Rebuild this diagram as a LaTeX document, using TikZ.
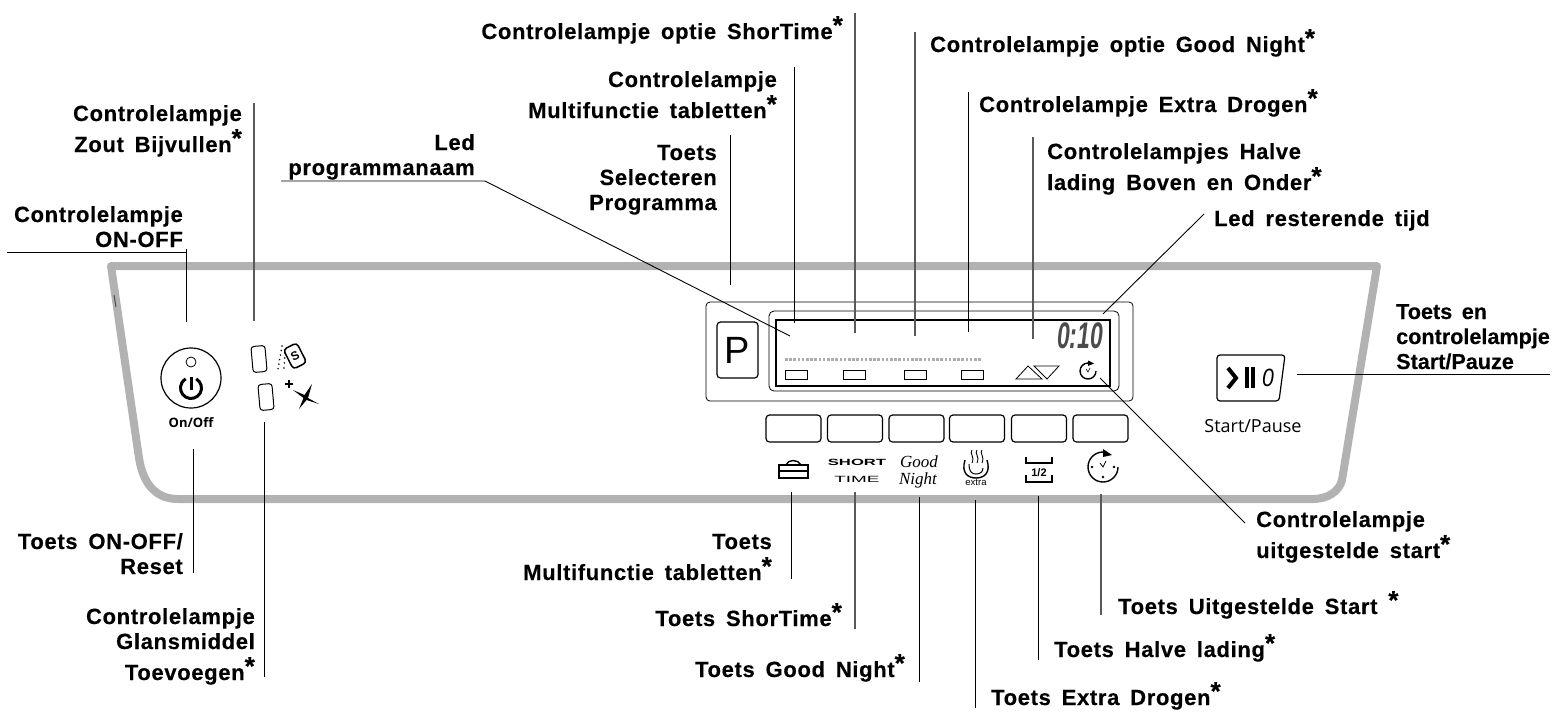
\documentclass[tikz,border=0pt]{standalone}
\usepackage{fontspec}
\usepackage{tikz}
\setmainfont{Liberation Sans}
\newfontfamily\labelfont[LetterSpace=3,WordSpace=1.6,FakeBold=0.3]{Liberation Sans Bold}
\newfontfamily\tightfont[WordSpace=1.6,FakeBold=0.3]{Liberation Sans Bold}
\newfontfamily\panelfont{Open Sans}
\newfontfamily\handfont{Liberation Serif}
\newcommand{\ster}{\smash{\raisebox{5pt}{\fontsize{26}{26}\selectfont *}}}
\definecolor{panelgrey}{HTML}{B2B2B2}

\begin{document}
\begin{tikzpicture}[x=1pt, y=-1pt]
\tikzstyle{label} = [inner sep=0 pt, font=\labelfont\fontsize{22}{25}\selectfont, align=right]
\tikzstyle{labell} = [label, align=left]
\tikzstyle{leader} = [draw=black, line width=0.9 pt]
\tikzstyle{leaderg} = [draw=black!65, line width=1.3 pt]
\tikzstyle{key} = [draw=black, line width=1.2 pt, rounded corners=3.5 pt, minimum width=55 pt, minimum height=27 pt, inner sep=0 pt]
\tikzstyle{lamp} = [draw=black, line width=1 pt, rounded corners=3 pt, minimum width=14 pt, minimum height=26 pt, inner sep=0 pt, rotate=5]
\tikzstyle{slot} = [draw=black, line width=0.8 pt, minimum width=22 pt, minimum height=9 pt, inner sep=0 pt]
\tikzstyle{icon} = [draw=black, line width=1.4 pt]
\useasboundingbox (0,0) rectangle (1554,718);

% panel
\draw [panelgrey, line width=8 pt, line join=round] (111,266) -- (1377,266) -- (1342,480) .. controls (1339,492) and (1327,499) .. (1313,499) -- (178,499) .. controls (155,499) and (143,483) .. (139,458) -- cycle;
\draw [black!70, line width=1 pt] (114,295) -- (116,307);

% display
\node (dispouter) [draw=black, line width=0.8 pt, rounded corners=4 pt, minimum width=427 pt, minimum height=99 pt, inner sep=0 pt] at (919.5,351.5) {};
\node (dispmid) [draw=black, line width=0.8 pt, rounded corners=5 pt, minimum width=350 pt, minimum height=80 pt, inner sep=0 pt] at (944,351) {};
\node (dispin) [draw=black, line width=1.2 pt, minimum width=334 pt, minimum height=66 pt, inner sep=0 pt] at (943,353) {};
\node (pkey) [key, minimum width=41 pt, minimum height=56 pt] at (737.5,350) {\fontsize{38}{38}\selectfont P};
\coordinate (dotsa) at (785,359);
\coordinate (dotsb) at (982,359);
\draw [black!32, line width=3 pt, dash pattern=on 2.6 pt off 1.6 pt] (dotsa) -- (dotsb);
\node (slota) [slot] at (796,374.5) {};
\node (slotb) [slot] at (854,374.5) {};
\node (slotc) [slot] at (915,374.5) {};
\node (slotd) [slot] at (972.5,374.5) {};
\draw [line width=0.8 pt] (1016,379) -- (1028,366) -- (1042,379) -- cycle;
\draw [line width=0.8 pt] (1034,366) -- (1059,366) -- (1047,379) -- cycle;
\node (tijd) [inner sep=0 pt, text=black!70, xscale=0.62, font=\bfseries\itshape\fontsize{37}{37}\selectfont] at (1080,336) {0:10};
% small clock
\draw [icon] (1096,371) arc (0:270:8);
\fill (1088,360.5) -- (1094,363.5) -- (1088,366) -- cycle;
\draw [line width=0.6 pt] (1086,369) -- (1088,372) -- (1090,368);

% keys
\node (keya) [key] at (793.5,428.5) {};
\node (keyb) [key] at (855,428.5) {};
\node (keyc) [key] at (916.5,428.5) {};
\node (keyd) [key] at (977,428.5) {};
\node (keye) [key] at (1039,428.5) {};
\node (keyf) [key] at (1100.5,428.5) {};

% key icons
\draw [icon] (779,465) rectangle (808,478);
\draw [icon] (779,471) -- (808,471);
\draw [icon] (786,465) .. controls (788,459) and (798,459) .. (801,465);
\node (shorttxt) [inner sep=0 pt, xscale=1.85, font=\bfseries\fontsize{9}{9}\selectfont] at (857,462) {SHORT};
\node (timetxt) [inner sep=0 pt, xscale=2.1, font=\fontsize{9}{9}\selectfont] at (857,479) {TIME};
\node (goodtxt) [inner sep=0 pt, font=\handfont\itshape\fontsize{17}{17}\selectfont] at (919,462) {Good};
\node (nighttxt) [inner sep=0 pt, font=\handfont\itshape\fontsize{17}{17}\selectfont] at (918,480) {Night};
\draw [icon] (965,460) .. controls (961,473) and (968,478) .. (976,478) .. controls (984,478) and (991,473) .. (987,460);
\draw [line width=1 pt] (969,464) .. controls (969,472) and (972,474) .. (976,474) .. controls (980,474) and (983,472) .. (983,468);
\draw [line width=0.9 pt] (972,450) .. controls (969,453) and (975,456) .. (972,463);
\draw [line width=0.9 pt] (977,450) .. controls (974,453) and (980,456) .. (977,463);
\draw [line width=0.9 pt] (982,450) .. controls (979,453) and (985,456) .. (982,463);
\node (extratxt) [inner sep=0 pt, font=\fontsize{9.5}{10}\selectfont] at (976,482) {extra};
\draw [icon] (1026,457) -- (1026,463) -- (1052,463) -- (1052,457);
\draw [icon] (1026,475) -- (1026,482) -- (1052,482) -- (1052,475);
\node (halftxt) [inner sep=0 pt, font=\bfseries\fontsize{11}{11}\selectfont] at (1039,473) {1/2};
\draw [icon] (1118,467) arc (0:270:15);
\fill (1103,449) -- (1112,455) -- (1103,457) -- cycle;
\draw [line width=0.8 pt] (1100,463) -- (1103,467) -- (1106,461);
\fill (1092,467) circle (1.3 pt) (1114,467) circle (1.3 pt) (1103,477) circle (1.3 pt);

% power key
\node (power) [circle, draw=black, line width=1.2 pt, minimum width=60 pt, inner sep=0 pt] at (191,378) {};
\node (powerled) [circle, draw=black, line width=0.8 pt, minimum width=10 pt, inner sep=0 pt] at (191,362) {};
\draw [line width=3 pt] (196.25,378.9) arc (300:600:10.5);
\draw [line width=3 pt] (191,377) -- (191,390);
\node (onoff) [inner sep=0 pt, font=\panelfont\bfseries\fontsize{13}{13}\selectfont] at (191,423) {On/Off};

% salt and rinse aid
\node (lampzout) [lamp] at (259,359) {};
\node (lampglans) [lamp] at (266,397) {};
\node (zoutbox) [draw=black, line width=1.5 pt, rounded corners=3.5 pt, minimum width=15 pt, minimum height=22 pt, inner sep=0 pt, rotate=27, font=\bfseries\fontsize{12}{12}\selectfont] at (295,356) {S};
\draw [line width=1.7 pt, line cap=round, dash pattern=on 0 pt off 4.6 pt] (282,346) -- (278,369);
\draw [line width=1.7 pt, line cap=round, dash pattern=on 0 pt off 5 pt] (285,353) -- (284,368);
\fill (293,390) -- (304.5,395) -- (312,384) -- (308,398) -- (319,404) -- (306.5,400) -- (299,409) -- (303.5,398) -- cycle;
\draw [line width=1.4 pt] (285,384) -- (293,384);
\draw [line width=1.4 pt] (289,380) -- (289,388);

% start key
\draw [line width=1.2 pt, rounded corners=3 pt] (1217,355) -- (1285,355) -- (1279,401) -- (1217,401) -- cycle;
\draw [line width=4 pt] (1228,368) -- (1236,378) -- (1228,388);
\draw [line width=3.6 pt] (1247,367) -- (1247,388);
\draw [line width=3.6 pt] (1253,367) -- (1253,388);
\node (nultxt) [inner sep=0 pt, xscale=0.85, font=\itshape\fontsize{25}{25}\selectfont] at (1268,378) {0};
\node (starttxt) [inner sep=0 pt, font=\panelfont\fontsize{18}{18}\selectfont] at (1253,426) {Start/Pause};

% labels
\node (lonoff) [label, anchor=base east] at (183,247) {Controlelampje\\ON-OFF};
\node (lzout) [label, anchor=base east] at (242,152) {Controlelampje\\[6 pt]Zout Bijvullen\ster};
\node (lled) [label, anchor=base east] at (475,175) {Led\\programmanaam};
\node (lshort) [label, anchor=base east] at (843,39) {Controlelampje optie ShorTime\ster};
\node (lmulti) [label, anchor=base east] at (777,118) {Controlelampje\\[6 pt]Multifunctie tabletten\ster};
\node (lprog) [label, anchor=base east] at (717,210) {Toets\\Selecteren\\Programma};
\node (lgood) [labell, anchor=base west] at (930,52) {Controlelampje optie Good Night\ster};
\node (lextra) [labell, anchor=base west] at (979,112) {Controlelampje Extra Drogen\ster};
\node (lhalve) [labell, anchor=base west] at (1047,190) {Controlelampjes Halve\\[6 pt]lading Boven en Onder\ster};
\node (lrest) [labell, anchor=base west] at (1214,226) {Led resterende tijd};
\node (lstart) [labell, anchor=base west, font=\tightfont\fontsize{21.6}{25}\selectfont] at (1396,369) {Toets en\\controlelampje\\Start/Pauze};
\node (luit) [labell, anchor=base west] at (1256,558) {Controlelampje\\[6 pt]uitgestelde start\ster};
\node (ltonoff) [label, anchor=base east] at (183,574) {Toets ON-OFF/\\Reset};
\node (lglans) [label, anchor=base east] at (255,680) {Controlelampje\\Glansmiddel\\[6 pt]Toevoegen\ster};
\node (ltmulti) [label, anchor=base east] at (772,580) {Toets\\[6 pt]Multifunctie tabletten\ster};
\node (ltshort) [label, anchor=base east] at (842,626) {Toets ShorTime\ster};
\node (ltgood) [label, anchor=base east] at (905,677) {Toets Good Night\ster};
\node (ltextra) [labell, anchor=base west] at (991,705) {Toets Extra Drogen\ster};
\node (lthalve) [labell, anchor=base west] at (1054,657) {Toets Halve lading\ster};
\node (ltuit) [labell, anchor=base west] at (1118,614) {Toets Uitgestelde Start \ster};

% connector ends
\coordinate (ca) at (7,252);
\coordinate (cb) at (186,252);
\coordinate (cc) at (186,322);
\coordinate (cd) at (186,249);
\coordinate (da) at (254,103);
\coordinate (db) at (254,321);
\coordinate (ea) at (264,422);
\coordinate (eb) at (264,677);
\coordinate (fa) at (193,449);
\coordinate (fb) at (193,573);
\coordinate (ga) at (281,181);
\coordinate (gb) at (485,181);
\coordinate (gc) at (790,336);
\coordinate (ha) at (730,135);
\coordinate (hb) at (730,285);
\coordinate (ia) at (794,67);
\coordinate (ib) at (794,323);
\coordinate (ja) at (855,13);
\coordinate (jb) at (855,333);
\coordinate (ka) at (915,32);
\coordinate (kb) at (915,336);
\coordinate (la) at (968,92);
\coordinate (lb) at (968,332);
\coordinate (ma) at (1033,137);
\coordinate (mb) at (1033,339);
\coordinate (na) at (1204,214);
\coordinate (nb) at (1103,314);
\coordinate (oa) at (1297,374);
\coordinate (ob) at (1550,374);
\coordinate (pa) at (1100,378);
\coordinate (pb) at (1245,523);
\coordinate (qa) at (791,492);
\coordinate (qb) at (791,579);
\coordinate (ra) at (855,492);
\coordinate (rb) at (855,629);
\coordinate (sa) at (919,497);
\coordinate (sb) at (919,682);
\coordinate (ta) at (975,500);
\coordinate (tb) at (975,708);
\coordinate (ua) at (1038,496);
\coordinate (ub) at (1038,660);
\coordinate (va) at (1101,494);
\coordinate (vb) at (1101,615);

\draw [leader] (ca) -- (cb);
\draw [leader] (cd) -- (cc);
\draw [leaderg] (da) -- (db);
\draw [leader] (ea) -- (eb);
\draw [leader] (fa) -- (fb);
\draw [leader] (ga) -- (gb) -- (gc);
\draw [leader] (ha) -- (hb);
\draw [leader] (ia) -- (ib);
\draw [leaderg] (ja) -- (jb);
\draw [leaderg] (ka) -- (kb);
\draw [leader] (la) -- (lb);
\draw [leaderg] (ma) -- (mb);
\draw [leader] (na) -- (nb);
\draw [leader] (oa) -- (ob);
\draw [leader] (pa) -- (pb);
\draw [leader] (qa) -- (qb);
\draw [leaderg] (ra) -- (rb);
\draw [leader] (sa) -- (sb);
\draw [leader] (ta) -- (tb);
\draw [leader] (ua) -- (ub);
\draw [leaderg] (va) -- (vb);

\end{tikzpicture}
\end{document}
